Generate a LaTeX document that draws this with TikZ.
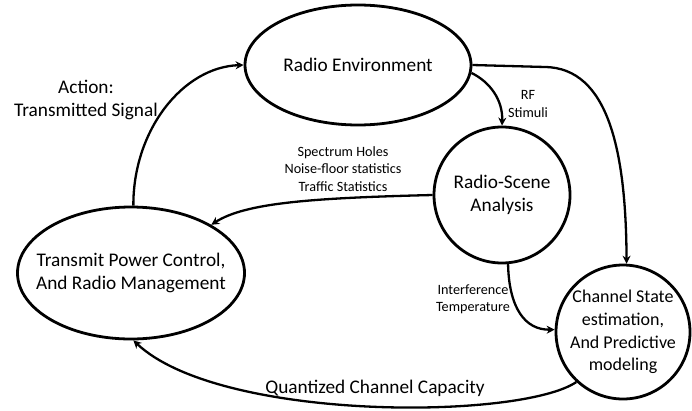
\documentclass[tikz,border=0pt]{standalone}
\usepackage{fontspec}
\setmainfont{Carlito}
\usetikzlibrary{shapes.geometric,arrows.meta}
\tikzset{
  blob/.style={draw=black, line width=2.8pt, align=center, font=\fontsize{19.3}{23}\selectfont,
    inner xsep=-25pt, inner ysep=-20pt},
  oval/.style={blob, ellipse},
  round/.style={blob, circle},
  link/.style={line width=2.3pt, -{Stealth[length=8pt,width=8pt]}},
  big/.style={align=center, font=\fontsize{19.3}{23}\selectfont},
  small/.style={align=center, font=\fontsize{14.2}{17.5}\selectfont},
}
\begin{document}
\begin{tikzpicture}[x=1pt,y=-1pt]
\useasboundingbox (0,0) rectangle (692,410);

% state nodes of the cognitive cycle
\node[oval, minimum width=226pt, minimum height=120pt] (env) at (358,65) {Radio Environment};
\node[round, minimum size=136pt] (rsa) at (502,195) {Radio-Scene\\Analysis};
\node[oval, minimum width=227pt, minimum height=132pt] (tpc) at (131,273) {Transmit Power Control,\\And Radio Management};
\node[round, minimum size=134pt, font=\fontsize{18}{22.7}\selectfont] (cse) at (623,332) {Channel State\\estimation,\\And Predictive\\modeling};

% labels
\node[big] (lact) at (86,99.5) {Action:\\Transmitted Signal};
\node[small] (lrf) at (528,104) {RF\\Stimuli};
\node[small] (lspec) at (343,169) {Spectrum Holes\\Noise-floor statistics\\Traffic Statistics};
\node[small] (lint) at (473,299.5) {Interference\\Temperature};
\node[big] (lcap) at (375,388) {Quantized Channel Capacity};

% connectors
\draw[link] (tpc.88) .. controls (133,130) and (183,67) .. (env.west);
\draw[link] (env.east) -- (545,67) .. controls (608,68) and (626,150) .. (cse.87);
\draw[link] (env.-4) .. controls (490,82) and (503,100) .. (rsa.north);
\draw[link] (rsa.west) .. controls (310,198) and (245,203) .. (tpc.31);
\draw[link] (rsa.-85) .. controls (509,308) and (525,330) .. (cse.178);
\draw[link] (cse.-133) .. controls (520,420) and (220,422) .. (tpc.-88);
\end{tikzpicture}
\end{document}
